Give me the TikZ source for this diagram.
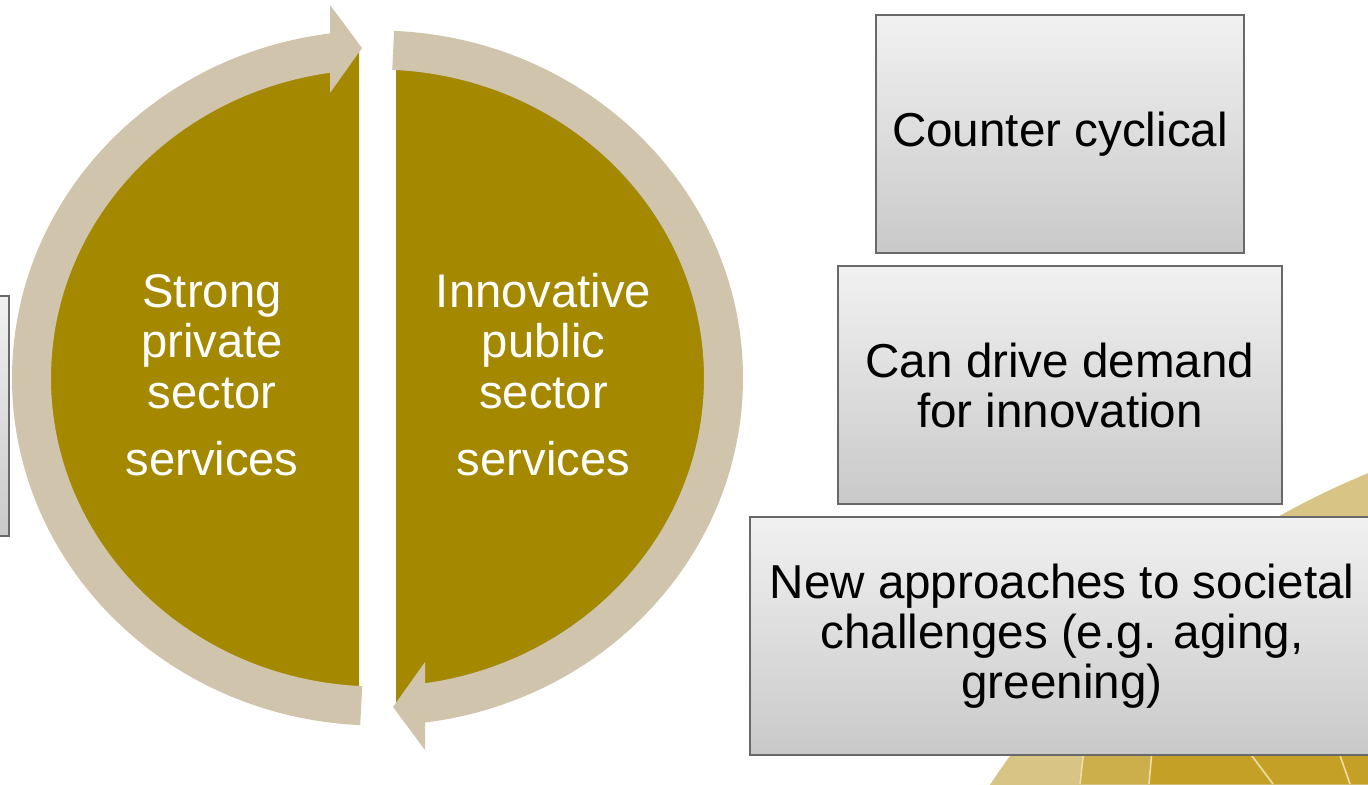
\documentclass[tikz,border=0pt]{standalone}
\usepackage{fontspec}
\setmainfont{Liberation Sans}
\usetikzlibrary{shadows}

\definecolor{olivefill}{RGB}{163,136,0}
\definecolor{ringbeige}{RGB}{208,197,172}
\definecolor{boxtop}{RGB}{241,241,241}
\definecolor{boxbottom}{RGB}{201,201,201}
\definecolor{boxline}{RGB}{105,105,105}
\definecolor{goldlight}{RGB}{216,197,134}
\definecolor{goldmid}{RGB}{204,175,74}
\definecolor{golddark}{RGB}{196,161,38}
\definecolor{goldline}{RGB}{238,222,165}

\tikzset{
  ringarc/.style={draw=ringbeige, line width=19.5pt},
  halftext/.style={text=white, anchor=base, inner sep=0pt, font=\fontsize{23.6pt}{25pt}\selectfont},
  greybox/.style={draw=boxline, line width=1.2pt, top color=boxtop, bottom color=boxbottom,
    align=center, inner sep=0pt, minimum height=119pt, font=\fontsize{23.8pt}{25pt}\selectfont,
    drop shadow={shadow xshift=0.7pt, shadow yshift=-0.7pt, opacity=0.3, fill=black}}
}

\begin{document}
\begin{tikzpicture}[x=0.5pt,y=0.5pt]
%\draw[help lines,step=100] (0,0) grid (1368,784);
\useasboundingbox (0,0) rectangle (1368,784);
\clip (0,0) rectangle (1368,784);

% gold globe in the corner
\begin{scope}
\clip (1684,-458) circle [radius=831];
\fill[goldlight] (1684,-458) circle [radius=831];
\fill[goldmid] (1080,0) -- (1084.5,40) -- (1400,40) -- (1400,0) -- cycle;
\fill[golddark] (1149,0) -- (1152.5,40) -- (1400,40) -- (1400,0) -- cycle;
\draw[goldline,line width=0.8pt] (1080,0) -- (1084.5,40);
\draw[goldline,line width=0.8pt] (1149,0) -- (1152.5,40);
\draw[goldline,line width=0.8pt] (1273,0) -- (1243,40);
\draw[goldline,line width=0.8pt] (1350,0) -- (1336,40);
\end{scope}

% box cut off at the left edge
\node[greybox, minimum width=184pt, minimum height=120pt] (leftbox) at (-175,368) {};

% the two halves
\begin{scope}
\clip (0,0) rectangle (359,784);
\fill[olivefill] (377.5,406) ellipse [x radius=346, y radius=328];
\end{scope}
\begin{scope}
\clip (396,0) rectangle (800,784);
\fill[olivefill] (377.5,406) ellipse [x radius=346, y radius=328];
\end{scope}

% the cycle arrows
\draw[ringarc] (377.5,406) ++(267.3:346 and 328) arc [start angle=267.3, end angle=97, x radius=346, y radius=328];
\fill[ringbeige] (330,779) -- (362,736) -- (330,691) -- cycle;
\draw[ringarc] (377.5,406) ++(87.4:346 and 328) arc [start angle=87.4, end angle=-83, x radius=346, y radius=328];
\fill[ringbeige] (425,122) -- (393,77) -- (425,34) -- cycle;

\node[halftext] (strong) at (212,477) {Strong};
\node[halftext] (private) at (212,427) {private};
\node[halftext] (sectorleft) at (212,376) {sector};
\node[halftext] (servleft) at (212,309) {services};

\node[halftext] (innovative) at (543.5,477) {Innovative};
\node[halftext] (public) at (543.5,427) {public};
\node[halftext] (sectorright) at (543.5,376) {sector};
\node[halftext] (servright) at (543.5,309) {services};

% the three grey boxes
\node[greybox, minimum width=184pt] (cyclical) at (1060,650) {Counter cyclical};
\node[greybox, minimum width=222pt] (demand) at (1060,399) {Can drive demand\\for innovation};
\node[greybox, minimum width=312pt] (societal) at (1062,148) {New approaches to societal\\challenges (e.g. aging,\\greening)};
\end{tikzpicture}
\end{document}
